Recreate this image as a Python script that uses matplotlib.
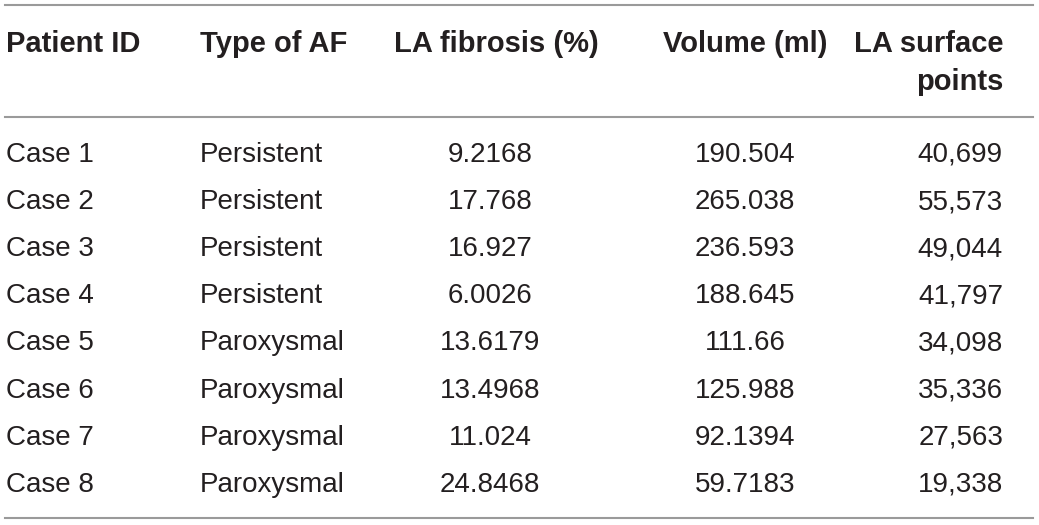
import matplotlib
matplotlib.use("Agg")
import matplotlib.pyplot as plt

plt.rcParams['font.family'] = ['Liberation Sans', 'DejaVu Sans']

W, H = 1039, 525

headers = ['Patient ID', 'Type of AF', 'LA fibrosis (%)', 'Volume (ml)', 'LA surface\npoints']
patient_ids = ['Case 1', 'Case 2', 'Case 3', 'Case 4', 'Case 5', 'Case 6', 'Case 7', 'Case 8']
af_types = ['Persistent', 'Persistent', 'Persistent', 'Persistent',
            'Paroxysmal', 'Paroxysmal', 'Paroxysmal', 'Paroxysmal']
fibrosis = ['9.2168', '17.768', '16.927', '6.0026', '13.6179', '13.4968', '11.024', '24.8468']
volume = ['190.504', '265.038', '236.593', '188.645', '111.66', '125.988', '92.1394', '59.7183']
surface_points = ['40,699', '55,573', '49,044', '41,797', '34,098', '35,336', '27,563', '19,338']

txt_color = '#231f20'
line_color = '#9a9a9a'

fig = plt.figure(figsize=(W / 100, H / 100), dpi=100)

def put(x, y, s, ha, bold=False):
    # y is the text baseline in pixels from the top
    fig.text(x / W, 1 - y / H, s, ha=ha, va='baseline',
             fontsize=21 if bold else 20, color=txt_color,
             fontweight='bold' if bold else 'normal')

# rules
for y in (5, 117, 518):
    fig.add_artist(plt.Line2D([5 / W, 1033 / W], [1 - y / H, 1 - y / H],
                              color=line_color, lw=1.5, transform=fig.transFigure))

# column positions (x, alignment)
cols = [(6, 'left'), (200, 'left'), (490, 'center'), (745, 'center'), (1003, 'right')]
head_x = [6, 200, 496, 745, 1003]

head_base, head_dy = 52, 38
for i, h in enumerate(headers):
    for k, part in enumerate(h.split('\n')):
        put(head_x[i], head_base + k * head_dy, part, cols[i][1], bold=True)

columns = [patient_ids, af_types, fibrosis, volume, surface_points]
row_base, row_dy = 162, 47.1
for r in range(len(patient_ids)):
    y = row_base + r * row_dy
    for c, data in enumerate(columns):
        put(cols[c][0], y, data[r], cols[c][1])

fig.savefig('out.png', dpi=100, facecolor='white')
